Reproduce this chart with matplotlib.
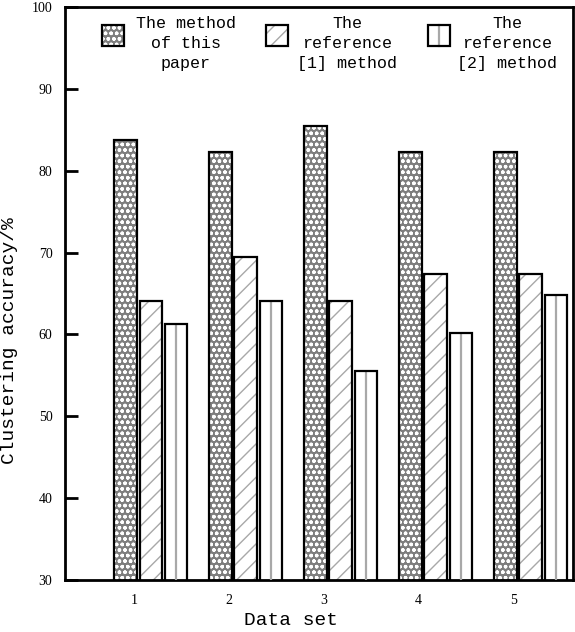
import numpy as np
import matplotlib
matplotlib.use("Agg")
import matplotlib.pyplot as plt
from matplotlib.patches import Rectangle

# clustering accuracy (%) per data set
datasets = ["1", "2", "3", "4", "5"]
this_paper = [83.8, 82.3, 85.5, 82.3, 82.3]
reference_1 = [64.1, 69.4, 64.1, 67.4, 67.4]
reference_2 = [61.3, 64.1, 55.5, 60.2, 64.8]

labels = ["The method\nof this\npaper", "The\nreference\n[1] method", "The\nreference\n[2] method"]
yticks = [30, 40, 50, 60, 70, 80, 90, 100]

mono = "Liberation Mono"
serif = "Liberation Serif"
dot_face = "#7e7e7e"
dot_hatch = "ooo"
stripe = "#a8a8a8"

fig = plt.figure(figsize=(5.75, 6.32), dpi=100)
ax = fig.add_axes([0.113, 0.0823, 0.8835, 0.9067])

x = np.arange(1, len(datasets) + 1)
w = 0.24
off = 0.265

# dotted grey bars: fill + white dot hatch, then black outline
ax.bar(x - off, this_paper, w, color=dot_face, edgecolor="white",
       hatch=dot_hatch, linewidth=0, zorder=2)
ax.bar(x - off, this_paper, w, fill=False, edgecolor="black", linewidth=1.6, zorder=4)

# diagonal hatched bars
ax.bar(x, reference_1, w, color="white", edgecolor=stripe, hatch="//",
       linewidth=0, zorder=2)
ax.bar(x, reference_1, w, fill=False, edgecolor="black", linewidth=1.6, zorder=4)

# white bars with a single grey stripe
ax.bar(x + off, reference_2, w, color="white", linewidth=0, zorder=2)
ax.vlines(x + off, 30, reference_2, color=stripe, linewidth=1.6, zorder=3)
ax.bar(x + off, reference_2, w, fill=False, edgecolor="black", linewidth=1.6, zorder=4)

ax.set_xlim(0.095, 5.445)
ax.set_ylim(30, 100)

ax.set_yticks(yticks)
ax.set_yticklabels([str(v) for v in yticks], fontfamily=serif, fontsize=10)
ax.tick_params(axis="y", direction="in", length=9, width=2, pad=9)
ax.set_xticks(x - 0.18)
ax.set_xticklabels(datasets, fontfamily=serif, fontsize=10)
ax.tick_params(axis="x", length=0, pad=10)

for s in ax.spines.values():
    s.set_linewidth(2)
    s.set_color("black")

ax.set_ylabel("Clustering accuracy/%", fontfamily=mono, fontsize=14)
ax.yaxis.set_label_coords(-0.093, 0.417)
ax.set_xlabel("Data set", fontfamily=mono, fontsize=14)
ax.xaxis.set_label_coords(0.445, -0.056)

# legend drawn by hand: swatch beside a centred three-line label
swatch_x = [0.0728, 0.3957, 0.7146]
text_x = [0.238, 0.555, 0.870]
sw_w, sw_h = 0.044, 0.037
sw_top = 0.9686

ax.add_patch(Rectangle((swatch_x[0], sw_top - sw_h), sw_w, sw_h, transform=ax.transAxes,
                       facecolor=dot_face, edgecolor="white", hatch=dot_hatch, linewidth=0, zorder=5))
ax.add_patch(Rectangle((swatch_x[1], sw_top - sw_h), sw_w, sw_h, transform=ax.transAxes,
                       facecolor="white", edgecolor=stripe, hatch="//", linewidth=0, zorder=5))
ax.add_patch(Rectangle((swatch_x[2], sw_top - sw_h), sw_w, sw_h, transform=ax.transAxes,
                       facecolor="white", linewidth=0, zorder=5))
ax.plot([swatch_x[2] + sw_w / 2] * 2, [sw_top - sw_h, sw_top], transform=ax.transAxes,
        color=stripe, linewidth=1.6, zorder=6)
for sx in swatch_x:
    ax.add_patch(Rectangle((sx, sw_top - sw_h), sw_w, sw_h, transform=ax.transAxes,
                           fill=False, edgecolor="black", linewidth=1.6, zorder=7))

for tx, lab in zip(text_x, labels):
    ax.text(tx, 0.985, lab, transform=ax.transAxes, ha="center", va="top",
            multialignment="center", fontfamily=mono, fontsize=12, linespacing=1.45)

fig.savefig("out.png", dpi=100)
